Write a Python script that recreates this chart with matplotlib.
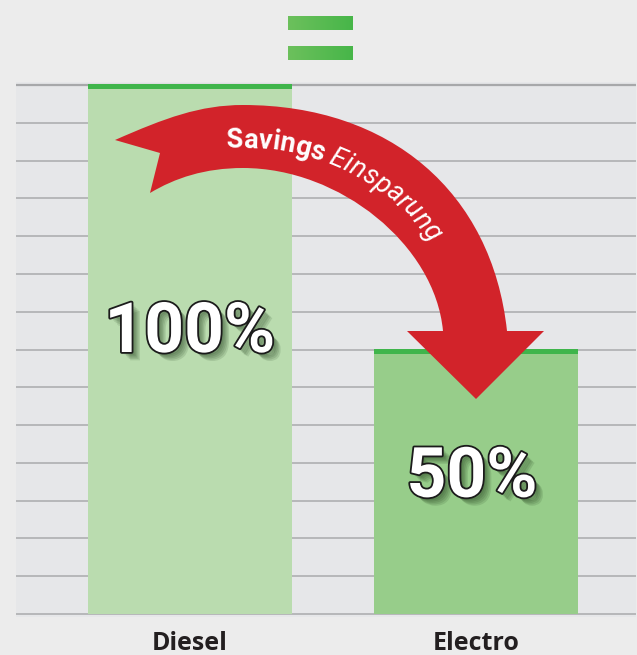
import numpy as np
import matplotlib
matplotlib.use("Agg")
import matplotlib.pyplot as plt
from matplotlib.path import Path
from matplotlib.patches import PathPatch
from matplotlib.font_manager import FontProperties
from matplotlib.colors import LinearSegmentedColormap
import matplotlib.patheffects as pe
import matplotlib.transforms as mtransforms

# ---------------- data ----------------
categories = ["Diesel", "Electro"]
values = [100, 50]
value_labels = ["100%", "50%"]
arrow_word_bold = "Savings"
arrow_word_italic = "Einsparung"

# ---------------- style ----------------
W, H = 637, 655
fig = plt.figure(figsize=(W / 100, H / 100), dpi=100, facecolor="#ececec")

px_per_unit = 529 / 100.0
ymin, ymax = -0.5, 100.5
ax_h = (ymax - ymin) * px_per_unit
ax_bottom_px = 614 + (0 - ymin) * px_per_unit
ax = fig.add_axes([16 / W, 1 - ax_bottom_px / H, 620 / W, ax_h / H])
ax.set_facecolor("#e6e7e9")

x = np.arange(len(categories))
bar_w = 0.713
ax.set_xlim(-0.608, 1.559)
ax.set_ylim(ymin, ymax)

ax.bar(x, values, width=bar_w, color=["#badcaf", "#97cd8a"], zorder=2)
strip_h = 5 / px_per_unit
ax.bar(x, strip_h, bottom=np.array(values) - strip_h * 0.85, width=bar_w,
       color="#3fb54b", zorder=3)

ax.set_yticks(np.linspace(0, 100, 15))
ax.yaxis.grid(True, color="#a9aaac", lw=1.1)
ax.set_axisbelow(True)
ax.axhline(100, color="#a2a3a5", lw=1.6, zorder=0.5)
ax.tick_params(axis="y", length=0, labelleft=False)
ax.tick_params(axis="x", length=0, pad=10)
ax.set_xticks(x)
ax.set_xticklabels(categories, fontsize=18, fontweight="bold",
                   family=["Open Sans", "DejaVu Sans"], color="#231f20")
for s in ax.spines.values():
    s.set_visible(False)

# big value labels
label_dx_px = [0, -4]
label_dy_px = [-2.5, -15]
shadow = [pe.SimplePatchShadow(offset=(o, -o), shadow_rgbFace="#1e3a18", alpha=0.13)
          for o in (2, 3, 4, 5, 6)]
effects = shadow + [pe.Stroke(linewidth=2.6, foreground="#1b1b1b"), pe.Normal()]
for i, (v, lab) in enumerate(zip(values, value_labels)):
    tr = mtransforms.offset_copy(ax.transData, fig=fig, x=label_dx_px[i],
                                 y=label_dy_px[i], units="dots")
    ax.text(x[i], v / 2, lab, transform=tr, ha="center", va="baseline",
            fontsize=50, fontweight="bold", family=["Roboto", "DejaVu Sans"],
            color="white", path_effects=effects, zorder=6)


# ---------------- arrow (decoration in pixel coords) ----------------
def P(xp, yp):
    return (xp / W, 1 - yp / H)

verts = [
    (115, 140),
    (165, 118), (200, 105), (243, 105),
    (390, 105), (492, 192), (507, 331),
    (544, 331), (476, 399), (407, 331), (443, 331),
    (435, 245), (340, 168), (243, 168),
    (205, 168), (175, 178), (150, 193),
    (160, 153),
    (115, 140),
]
codes = ([Path.MOVETO] + [Path.CURVE4] * 6 + [Path.LINETO] * 4 +
         [Path.CURVE4] * 6 + [Path.LINETO] + [Path.CLOSEPOLY])
arrow = PathPatch(Path([P(*v) for v in verts], codes), transform=fig.transFigure,
                  facecolor="#d2232a", edgecolor="none", zorder=5)
fig.add_artist(arrow)


def bez(pts, t):
    pts = np.asarray(pts, float)
    t = t[:, None]
    return ((1 - t) ** 3 * pts[0] + 3 * (1 - t) ** 2 * t * pts[1]
            + 3 * (1 - t) * t ** 2 * pts[2] + t ** 3 * pts[3])

f = 0.68
outerA = np.array([(115, 140), (165, 118), (200, 105), (243, 105)], float)
innerA = np.array([(150, 193), (175, 178), (205, 168), (243, 168)], float)
outerB = np.array([(243, 105), (390, 105), (492, 192), (507, 331)], float)
innerB = np.array([(243, 168), (340, 168), (435, 245), (443, 331)], float)
baseA = outerA + f * (innerA - outerA)
baseB = outerB + f * (innerB - outerB)
tt = np.linspace(0, 1, 800)
curve = np.vstack([bez(baseA, tt), bez(baseB, tt)[1:]])
seg = np.hypot(np.diff(curve[:, 0]), np.diff(curve[:, 1]))
arc = np.concatenate([[0], np.cumsum(seg)])
tang = np.gradient(curve, axis=0)

renderer = fig.canvas.get_renderer()
fp_bold = FontProperties(family=["Roboto", "DejaVu Sans"], weight="bold", size=19.5)
fp_ital = FontProperties(family=["Roboto", "DejaVu Sans"], style="italic", size=19.5)


def adv(ch, fp):
    w1 = renderer.get_text_width_height_descent("|" + ch + "|", fp, ismath=False)[0]
    w0 = renderer.get_text_width_height_descent("||", fp, ismath=False)[0]
    return w1 - w0

chars = [(c, fp_bold) for c in arrow_word_bold] + [(" ", fp_bold)] + \
        [(c, fp_ital) for c in arrow_word_italic]
s = arc[np.argmax(curve[:, 0] >= 226)]
for ch, fp in chars:
    w = adv(ch, fp)
    sc = s + w / 2
    k = min(np.searchsorted(arc, sc), len(arc) - 1)
    xp, yp = curve[k]
    dx, dy = tang[k]
    ang = -np.degrees(np.arctan2(dy, dx))
    if ch != " ":
        fig.text(xp / W, 1 - yp / H, ch, fontproperties=fp, color="white",
                 ha="center", va="baseline", rotation=ang,
                 rotation_mode="anchor", zorder=7)
    s += w

# equals sign with a light-to-darker green gradient
eq_cmap = LinearSegmentedColormap.from_list("eq", ["#6cc05c", "#47b649"])
grad = np.linspace(0, 1, 64)[None, :]
for y0 in (16, 46):
    eax = fig.add_axes([288 / W, 1 - (y0 + 14) / H, 65 / W, 14 / H])
    eax.imshow(grad, cmap=eq_cmap, aspect="auto", interpolation="bilinear")
    eax.set_axis_off()

fig.savefig("out.png", dpi=100, facecolor=fig.get_facecolor())
